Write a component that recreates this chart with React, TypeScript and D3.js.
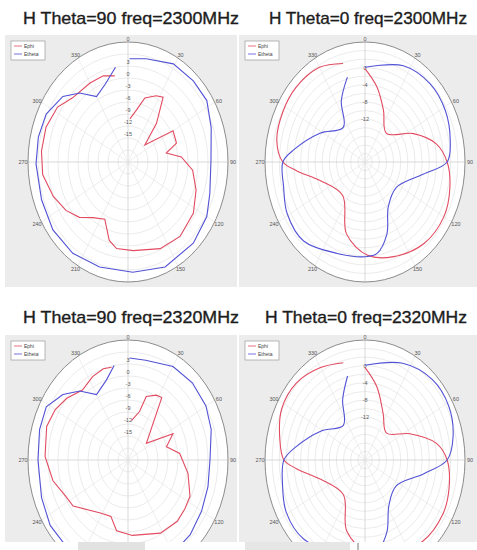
import React from "react";
import * as d3 from "d3";

// ---------- text ----------
const TITLES = [
  "H Theta=90 freq=2300MHz",
  "H Theta=0 freq=2300MHz",
  "H Theta=90 freq=2320MHz",
  "H Theta=0 freq=2320MHz",
];
const SERIES_NAMES = ["Ephi", "Etheta"];
const SERIES_COLORS = ["#e24b60", "#5252d6"];
const ANGLE_LABELS = [0, 30, 60, 90, 120, 150, 180, 210, 240, 270, 300, 330];

// radial tick labels (dB)
const TICKS_THETA90 = [3, 0, -3, -6, -9, -12, -15];
const TICKS_THETA0 = [0, -4, -8, -12];
const DOMAIN_THETA90: [number, number] = [-22, 8];
const DOMAIN_THETA0: [number, number] = [-22, 6];

// ---------- data: H Theta=90, 2300 MHz ----------
const tl_ephi_ang = [3, 11, 17.5, 27, 33, 41.5, 50, 60, 72, 79, 85.5, 96, 109, 123, 140, 156, 176, 189, 196, 206, 217, 226.5, 237, 249, 263, 276, 289.5, 303, 314, 330, 341, 349.5];
const tl_ephi_db = [-11.2, -8.8, -5.2, -3.4, -2.65, -9.1, -15.4, -6.4, -6.7, -10.3, -5.95, -2.5, -0.4, 1.4, 2.3, 1.7, 0.2, -0.1, -1.6, -6.1, -4.6, -1.9, 0.2, 2.0, 3.8, 4.1, 4.1, 3.2, 1.1, 0.8, 0.8, -0.1];
const tl_etheta_ang = [1, 12, 29, 44, 57, 71, 89, 108, 120, 136, 157, 177, 198, 216, 233, 250, 269, 283, 296, 310, 320, 330, 341, 351];
const tl_etheta_db = [3.8, 4.4, 6.05, 6.2, 6.2, 4.4, 2.9, 3.8, 5.3, 6.2, 6.5, 5.6, 5.6, 6.2, 6.2, 5.6, 5.6, 5.6, 5.3, 3.5, 0.5, -3.1, -1.3, 2.0];

// ---------- data: H Theta=0, 2300 MHz ----------
const tr_ephi_ang = [0, 10.6, 23, 42, 64, 78, 90, 104, 120, 139, 160, 178, 197, 219, 251, 264, 270, 281.5, 297, 312, 330, 345];
const tr_ephi_db = [-0.2, -4.1, -8.8, -13.0, -6.9, -1.6, 1.0, 2.5, 3.5, 3.2, 1.5, -0.2, -4.4, -12.0, -8.7, -2.7, 1.0, 3.2, 3.8, 4.0, 3.5, 1.8];
const tr_etheta_ang = [0, 25.5, 45, 62, 78, 90, 100, 124, 148, 160, 171, 180, 200, 223, 241, 256, 270, 278, 298, 323, 335, 346];
const tr_etheta_db = [0.1, 2.9, 3.8, 3.5, 2.4, 1.0, -5.5, -11.4, -9.7, -4.1, -0.4, 0.1, 0.7, 3.2, 2.9, 1.5, 1.0, -1.8, -7.7, -11.9, -6.3, -1.6];

// ---------- data: H Theta=90, 2320 MHz ----------
const bl_ephi_ang = [6, 16, 19, 27.6, 33, 53, 64, 74, 84, 100.5, 116, 126, 136, 152, 176, 191, 200, 212, 235, 243.6, 257, 272, 289, 300, 310, 322, 333, 342, 348];
const bl_ephi_db = [-12.1, -9.4, -5.2, -3.7, -3.4, -15.1, -7.0, -10.0, -6.4, -3.7, -1.3, -1.0, -0.7, -1.3, -3.1, -4.0, -7.0, -6.4, -1.9, -1.3, 1.1, 2.9, 3.8, 3.2, 2.0, 0.2, 1.4, 2.0, 1.7];
const bl_etheta_ang = [1, 12, 30, 45, 60, 73, 90, 105.5, 120, 135, 155, 178, 200, 220, 235, 250, 270, 286, 298.5, 310, 320, 330, 342, 350];
const bl_etheta_db = [3.5, 3.5, 5.0, 5.3, 5.0, 4.1, 2.6, 2.9, 3.5, 4.4, 5.6, 5.9, 5.9, 6.5, 6.5, 5.6, 5.0, 5.6, 5.9, 3.5, 0.5, -3.1, -1.0, 2.0];

// ---------- data: H Theta=0, 2320 MHz ----------
const br_ephi_ang = [0, 11, 25, 44, 64, 79, 90, 105, 120, 140, 160, 178, 197, 217, 250, 264, 270, 282, 297, 313, 330, 345];
const br_ephi_db = [-0.4, -4.6, -10.0, -13.3, -8.0, -1.6, 1.0, 2.4, 3.2, 2.9, 1.2, -0.4, -4.6, -11.9, -8.8, -2.7, 0.7, 2.4, 4.2, 4.3, 2.9, 1.5];
const br_etheta_ang = [0, 25, 45, 62, 78, 90, 101, 125, 148, 160, 171, 180, 200, 223, 241, 256, 270, 279, 299, 323, 336, 346];
const br_etheta_db = [0.1, 2.9, 4.6, 4.6, 3.2, 1.0, -5.2, -11.4, -9.4, -4.1, -0.4, 0.1, 1.0, 3.2, 3.2, 1.8, 0.7, -2.4, -8.0, -11.9, -6.6, -1.8];

type Series = { ang: number[]; db: number[]; color: string };

type PanelProps = {
  id: string;
  px: number; py: number; pw: number; ph: number;
  cx: number; cy: number;
  domain: [number, number];
  ringStep: number;
  ticks: number[];
  series: Series[];
  smooth: boolean;
};

const FONT = "'Liberation Sans', Arial, sans-serif";

function PolarPanel(p: PanelProps) {
  const RX = 100, RY = 120;
  const rs = d3.scaleLinear().domain(p.domain).range([0, 1]).clamp(true);
  const toXY = (deg: number, v: number): [number, number] => {
    const a = (deg * Math.PI) / 180;
    const k = rs(v);
    return [p.cx + k * RX * Math.sin(a), p.cy - k * RY * Math.cos(a)];
  };
  const line = d3
    .line<[number, number]>()
    .curve(p.smooth ? d3.curveCatmullRom.alpha(0.5) : d3.curveLinear);
  const rings = d3.range(p.domain[1] - p.ringStep, p.domain[0], -p.ringStep);
  const spokes = d3.range(0, 360, 30);
  const [lx, ly] = [p.px + 6, p.py + 6];
  const bottom = p.py + p.ph;

  const angleLabels = ANGLE_LABELS.map((a) => {
    const rad = (a * Math.PI) / 180;
    return {
      a,
      x: p.cx + (RX + 5) * Math.sin(rad),
      y: p.cy - (RY + 3) * Math.cos(rad),
    };
  }).filter((d) => d.y + 4 < bottom);

  return (
    <g>
      <defs>
        <clipPath id={p.id}>
          <rect x={p.px} y={p.py} width={p.pw} height={p.ph} />
        </clipPath>
      </defs>
      <g clipPath={`url(#${p.id})`}>
        <rect x={p.px} y={p.py} width={p.pw} height={p.ph} fill="#ececec" />
        <ellipse cx={p.cx} cy={p.cy} rx={RX} ry={RY} fill="#ffffff" />
        {rings.map((v) => (
          <ellipse
            key={v}
            cx={p.cx}
            cy={p.cy}
            rx={rs(v) * RX}
            ry={rs(v) * RY}
            fill="none"
            stroke="#e3e3e3"
            strokeWidth={0.7}
          />
        ))}
        {spokes.map((a) => {
          const [x, y] = toXY(a, p.domain[1]);
          return (
            <line
              key={a}
              x1={p.cx}
              y1={p.cy}
              x2={x}
              y2={y}
              stroke={a % 90 === 0 ? "#c9c9c9" : "#e6e6e6"}
              strokeWidth={0.7}
            />
          );
        })}
        <ellipse cx={p.cx} cy={p.cy} rx={RX} ry={RY} fill="none" stroke="#8c8c8c" strokeWidth={1} />
        {p.ticks.map((t) => {
          const [x, y] = toXY(0, t);
          return (
            <text key={t} x={x} y={y + 2} fontSize={5.5} fill="#555" textAnchor="middle" fontFamily={FONT}>
              {t}
            </text>
          );
        })}
        {angleLabels.map((d) => (
          <text key={d.a} x={d.x} y={d.y + 2} fontSize={5.5} fill="#555" textAnchor="middle" fontFamily={FONT}>
            {d.a}
          </text>
        ))}
        {p.series.map((s, i) => (
          <path
            key={i}
            d={line(s.ang.map((a, j) => toXY(a, s.db[j]))) || ""}
            fill="none"
            stroke={s.color}
            strokeWidth={1.1}
          />
        ))}
        <rect x={lx} y={ly} width={34} height={19} fill="#fff" stroke="#9a9a9a" strokeWidth={0.7} />
        {SERIES_NAMES.map((n, i) => (
          <g key={n}>
            <line x1={lx + 3} x2={lx + 11} y1={ly + 5 + i * 8} y2={ly + 5 + i * 8} stroke={SERIES_COLORS[i]} strokeWidth={0.8} />
            <text x={lx + 13} y={ly + 7 + i * 8} fontSize={5} fill="#444" fontFamily={FONT}>
              {n}
            </text>
          </g>
        ))}
      </g>
    </g>
  );
}

export default function App() {
  const panels: (PanelProps & { title: string; tx: number; ty: number; tl: number })[] = [
    {
      id: "c0", px: 5, py: 35, pw: 232, ph: 252, cx: 128, cy: 162,
      domain: DOMAIN_THETA90, ringStep: 3, ticks: TICKS_THETA90, smooth: false,
      series: [
        { ang: tl_ephi_ang, db: tl_ephi_db, color: SERIES_COLORS[0] },
        { ang: tl_etheta_ang, db: tl_etheta_db, color: SERIES_COLORS[1] },
      ],
      title: TITLES[0], tx: 131, ty: 24, tl: 216,
    },
    {
      id: "c1", px: 239, py: 35, pw: 238, ph: 252, cx: 365, cy: 162,
      domain: DOMAIN_THETA0, ringStep: 2, ticks: TICKS_THETA0, smooth: true,
      series: [
        { ang: tr_ephi_ang, db: tr_ephi_db, color: SERIES_COLORS[0] },
        { ang: tr_etheta_ang, db: tr_etheta_db, color: SERIES_COLORS[1] },
      ],
      title: TITLES[1], tx: 368, ty: 24, tl: 198,
    },
    {
      id: "c2", px: 5, py: 335, pw: 232, ph: 207, cx: 128, cy: 460,
      domain: DOMAIN_THETA90, ringStep: 3, ticks: TICKS_THETA90, smooth: false,
      series: [
        { ang: bl_ephi_ang, db: bl_ephi_db, color: SERIES_COLORS[0] },
        { ang: bl_etheta_ang, db: bl_etheta_db, color: SERIES_COLORS[1] },
      ],
      title: TITLES[2], tx: 131, ty: 323, tl: 216,
    },
    {
      id: "c3", px: 239, py: 335, pw: 238, ph: 207, cx: 365, cy: 460,
      domain: DOMAIN_THETA0, ringStep: 2, ticks: TICKS_THETA0, smooth: true,
      series: [
        { ang: br_ephi_ang, db: br_ephi_db, color: SERIES_COLORS[0] },
        { ang: br_etheta_ang, db: br_etheta_db, color: SERIES_COLORS[1] },
      ],
      title: TITLES[3], tx: 366, ty: 323, tl: 202,
    },
  ];

  return (
    <svg
      width={477}
      height={550}
      style={{ position: "absolute", left: 0, top: 0, background: "#fff" }}
    >
      <rect x={0} y={0} width={477} height={550} fill="#fff" />
      {panels.map((p) => (
        <g key={p.id}>
          <text
            x={p.tx}
            y={p.ty}
            fontSize={17}
            fill="#1c1c1c"
            stroke="#1c1c1c"
            strokeWidth={0.35}
            textAnchor="middle"
            fontFamily={FONT}
            textLength={p.tl}
            lengthAdjust="spacingAndGlyphs"
          >
            {p.title}
          </text>
          <PolarPanel {...p} />
        </g>
      ))}
      <rect x={78} y={542} width={67} height={8} fill="#e2e2e2" />
      <rect x={245} y={542} width={105} height={8} fill="#e6e6e6" />
      <line x1={358} x2={358} y1={543} y2={550} stroke="#555" strokeWidth={0.8} />
    </svg>
  );
}
